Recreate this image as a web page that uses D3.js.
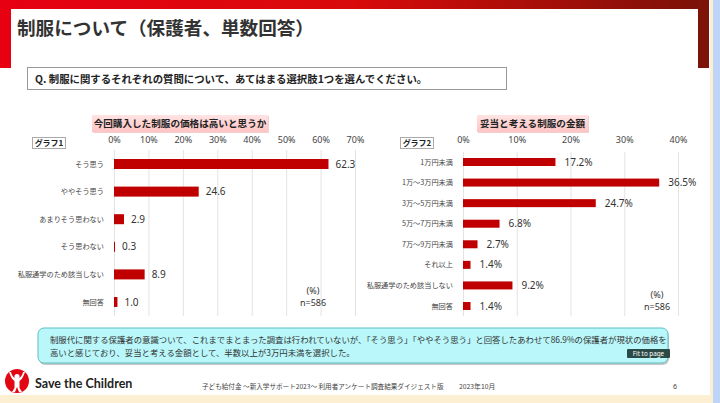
<!DOCTYPE html>
<html><head><meta charset="utf-8">
<script src="https://cdn.jsdelivr.net/npm/d3@7"></script>
<style>
html,body{margin:0;padding:0;background:#fff;}
svg{display:block;font-family:"Noto Sans CJK JP","Noto Sans",sans-serif;}
</style></head>
<body>
<svg id="c" width="720" height="403"></svg>
<script>
// ---- data ----
const cats1 = ["そう思う","ややそう思う","あまりそう思わない","そう思わない","私服通学のため該当しない","無回答"];
const vals1 = [62.3, 24.6, 2.9, 0.3, 8.9, 1.0];
const ticks1 = [0,10,20,30,40,50,60,70];
const cats2 = ["1万円未満","1万～3万円未満","3万～5万円未満","5万～7万円未満","7万～9万円未満","それ以上","私服通学のため該当しない","無回答"];
const vals2 = [17.2, 36.5, 24.7, 6.8, 2.7, 1.4, 9.2, 1.4];
const ticks2 = [0,10,20,30,40];
const pageTitle = "制服について（保護者、単数回答）";
const question = "Q. 制服に関するそれぞれの質問について、あてはまる選択肢1つを選んでください。";
const title1 = "今回購入した制服の価格は高いと思うか";
const title2 = "妥当と考える制服の金額";
const summary = ["制服代に関する保護者の意識ついて、これまでまとまった調査は行われていないが、「そう思う」「ややそう思う」と回答したあわせて86.9%の保護者が現状の価格を",
                 "高いと感じており、妥当と考える金額として、半数以上が3万円未満を選択した。"];
const footer = "子ども給付金 ～新入学サポート2023～ 利用者アンケート調査結果ダイジェスト版";

const svg = d3.select("#c");
const defs = svg.append("defs");
const g1 = defs.append("linearGradient").attr("id","topg").attr("x1","0").attr("x2","1");
g1.append("stop").attr("offset","0").attr("stop-color","#e60012");
g1.append("stop").attr("offset","0.5").attr("stop-color","#d80a0a");
g1.append("stop").attr("offset","1").attr("stop-color","#7a1208");
const pg = defs.append("linearGradient").attr("id","pinkg").attr("x1","0").attr("x2","0").attr("y1","0").attr("y2","1");
pg.append("stop").attr("offset","0").attr("stop-color","#ffe4e4");
pg.append("stop").attr("offset","1").attr("stop-color","#ffc4c4");

// background strips
svg.append("rect").attr("x",0).attr("y",0).attr("width",720).attr("height",403).attr("fill","#fff");
svg.append("rect").attr("x",710).attr("y",0).attr("width",3).attr("height",403).attr("fill","#fdf0d2");
svg.append("rect").attr("x",713).attr("y",0).attr("width",7).attr("height",403).attr("fill","#bed5f9");
svg.append("rect").attr("x",0).attr("y",395).attr("width",713).attr("height",8).attr("fill","#fdf0d2");

// red frame
svg.append("rect").attr("x",0).attr("y",0).attr("width",709).attr("height",9).attr("fill","url(#topg)");
svg.append("rect").attr("x",0).attr("y",0).attr("width",11).attr("height",68).attr("fill","#e60012");
svg.append("rect").attr("x",698).attr("y",0).attr("width",11).attr("height",68).attr("fill","#7d1309");

// title
svg.append("text").attr("x",17).attr("y",35).attr("font-size",18.6).attr("font-weight",700)
  .attr("fill","#333").text(pageTitle);

// question box
svg.append("rect").attr("x",27.5).attr("y",67.5).attr("width",479).attr("height",22)
  .attr("fill","#fff").attr("stroke","#999").attr("stroke-width",1);
svg.append("text").attr("x",35).attr("y",82.5).attr("font-size",10.4).attr("font-weight",700)
  .attr("fill","#222").text(question);

function chart(o){
  const x = d3.scaleLinear().domain([0, o.ticks[o.ticks.length-1]]).range([o.x0, o.x1]);
  const y = d3.scalePoint().domain(o.cats).range([o.yTop, o.yBot]);
  // title box
  svg.append("rect").attr("x",o.tb[0]+1).attr("y",o.tb[1]+1).attr("width",o.tb[2]).attr("height",o.tb[3]).attr("fill","#f3d0d0");
  svg.append("rect").attr("x",o.tb[0]).attr("y",o.tb[1]).attr("width",o.tb[2]).attr("height",o.tb[3]).attr("fill","url(#pinkg)");
  svg.append("text").attr("x",o.tb[0]+o.tb[2]/2).attr("y",o.tb[1]+o.tb[3]/2+3.4).attr("text-anchor","middle")
    .attr("font-size",9.6).attr("font-weight",700).attr("fill","#222").text(o.title);
  // graph tag
  svg.append("rect").attr("x",o.tag[0]+0.5).attr("y",o.tag[1]+0.5).attr("width",o.tag[2]).attr("height",o.tag[3])
    .attr("fill","#fff").attr("stroke","#aaa");
  svg.append("text").attr("x",o.tag[0]+o.tag[2]/2+0.5).attr("y",o.tag[1]+o.tag[3]/2+3.3).attr("text-anchor","middle")
    .attr("font-size",8).attr("font-weight",700).attr("fill","#222").text(o.tagText);
  // grid
  const grid = svg.append("g").attr("transform",`translate(0,${o.gTop})`)
    .call(d3.axisBottom(x).tickValues(o.ticks).tickSize(o.gBot-o.gTop).tickFormat(""));
  grid.select(".domain").remove();
  grid.selectAll("line").attr("stroke","#e3e3e3");
  // top axis labels
  const ax = svg.append("g").attr("transform",`translate(0,${o.axY})`)
    .call(d3.axisTop(x).tickValues(o.ticks).tickSize(0).tickPadding(0).tickFormat(d=>d+"%"));
  ax.select(".domain").remove();
  ax.selectAll("text").attr("font-size",9).attr("fill","#444").attr("font-family","'Noto Sans','DejaVu Sans',sans-serif");
  // bars
  svg.append("g").selectAll("rect").data(o.vals).join("rect")
    .attr("x",x(0)).attr("y",(d,i)=>y(o.cats[i])-o.bh/2)
    .attr("width",d=>x(d)-x(0)).attr("height",o.bh).attr("fill","#c00000");
  svg.append("g").selectAll("text").data(o.vals).join("text")
    .attr("x",d=>x(d)+o.lo).attr("y",(d,i)=>y(o.cats[i])+3.6)
    .attr("font-size",10).attr("fill","#333").attr("font-family","'Noto Sans','DejaVu Sans',sans-serif")
    .text(d=>d.toFixed(1)+o.suffix);
  // category labels
  svg.append("g").selectAll("text").data(o.cats).join("text")
    .attr("x",o.lx).attr("y",d=>y(d)+2.6).attr("text-anchor","end")
    .attr("font-size",7.2).attr("fill","#444").text(d=>d);
  // n
  svg.append("text").attr("x",o.nx).attr("y",o.ny).attr("text-anchor","middle").attr("font-size",9)
    .attr("fill","#333").attr("font-family","'Noto Sans',sans-serif").text("(%)");
  svg.append("text").attr("x",o.nx).attr("y",o.ny+11.5).attr("text-anchor","middle").attr("font-size",9)
    .attr("fill","#333").attr("font-family","'Noto Sans',sans-serif").text("n=586");
}

chart({cats:cats1, vals:vals1, ticks:ticks1, x0:114, x1:355, yTop:164, yBot:302, bh:10, lo:7, suffix:"",
  title:title1, tb:[92,115,176,17], tag:[32,137,33,11], tagText:"グラフ1",
  gTop:150, gBot:316, axY:143, lx:104, nx:313, ny:294});
chart({cats:cats2, vals:vals2, ticks:ticks2, x0:463, x1:678, yTop:162, yBot:306, bh:8, lo:9, suffix:"%",
  title:title2, tb:[477,115,111,17], tag:[400,137,33,11], tagText:"グラフ2",
  gTop:152, gBot:316, axY:143, lx:453, nx:657, ny:298});

// summary box
svg.append("rect").attr("x",39).attr("y",330).attr("width",630).attr("height",35).attr("rx",6).attr("fill","#c9c9c9");
svg.append("rect").attr("x",38).attr("y",328).attr("width",630).attr("height",35).attr("rx",6)
  .attr("fill","#b9f7fa").attr("stroke","#5bbfc2").attr("stroke-width",1);
svg.append("g").selectAll("text").data(summary).join("text")
  .attr("x",50).attr("y",(d,i)=>343+i*12.5).attr("font-size",8.4).attr("fill","#333").text(d=>d);

// tooltip
svg.append("rect").attr("x",627).attr("y",349).attr("width",43).attr("height",9).attr("rx",1).attr("fill","#2b4a45");
svg.append("text").attr("x",648.5).attr("y",356).attr("text-anchor","middle").attr("font-size",6.3)
  .attr("fill","#fff").attr("font-family","'Noto Sans',sans-serif").text("Fit to page");

// logo
const lg = svg.append("g").attr("transform","translate(17,381)");
lg.append("circle").attr("r",12).attr("fill","#e30613");
lg.append("circle").attr("cx",0).attr("cy",-4.5).attr("r",2.6).attr("fill","#fff");
lg.append("path").attr("d","M-8,-9 C-6,-3 -4,-1 -2.5,0 L-2.5,7 L-5,11 L-2,11 L0,6 L2,11 L5,11 L2.5,7 L2.5,0 C4,-1 6,-3 8,-9 L6,-9 C5,-5 3,-2.5 0,-2.5 C-3,-2.5 -5,-5 -6,-9 Z").attr("fill","#fff");
svg.append("text").attr("x",35).attr("y",387.5).attr("font-size",12.5).attr("font-weight",700)
  .attr("fill","#222").attr("font-family","Lato,'Open Sans',sans-serif").text("Save the Children");

// footer
svg.append("text").attr("x",202).attr("y",389).attr("font-size",6.6).attr("fill","#444").text(footer);
svg.append("text").attr("x",459).attr("y",389).attr("font-size",6.8).attr("fill","#444").text("2023年10月");
svg.append("text").attr("x",673).attr("y",389).attr("font-size",7).attr("fill","#444").attr("font-family","'Noto Sans',sans-serif").text("6");
</script>
</body></html>
